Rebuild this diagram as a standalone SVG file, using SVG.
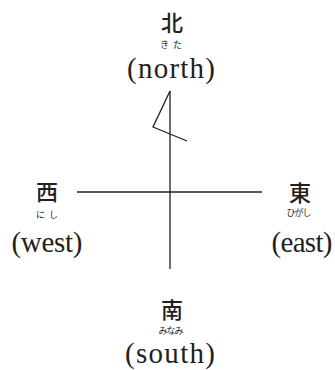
<svg xmlns="http://www.w3.org/2000/svg" width="335" height="370" viewBox="0 0 335 370">
<style>
.k{font-family:"Noto Sans CJK JP",sans-serif;font-size:22px;font-weight:500;fill:#231f20;text-anchor:middle}
.r{font-family:"Noto Sans CJK JP",sans-serif;font-size:9px;fill:#231f20;text-anchor:middle}
.e{font-family:"Liberation Serif",serif;font-size:29px;fill:#231f20;text-anchor:middle}
.ln{stroke:#231f20;stroke-width:1.3;fill:none}
</style>
<rect width="335" height="370" fill="#ffffff"/>
<g id="connectors">
<line class="ln" x1="170" y1="91" x2="170" y2="269"/>
<line class="ln" x1="77" y1="192" x2="262" y2="192"/>
<polyline class="ln" points="170,91 153,127 187,141"/>
</g>
<g id="north">
<text class="k" x="172" y="31">北</text>
<text class="r" x="171" y="48" textLength="22">きた</text>
<text class="e" x="171" y="78" textLength="88">(north)</text>
</g>
<g id="west">
<text class="k" x="47" y="200">西</text>
<text class="r" x="47" y="218" textLength="22">にし</text>
<text class="e" x="47" y="252" textLength="71">(west)</text>
</g>
<g id="east">
<text class="k" x="300" y="201">東</text>
<text class="r" x="299" y="216" textLength="25">ひがし</text>
<text class="e" x="302" y="252" textLength="61">(east)</text>
</g>
<g id="south">
<text class="k" x="172" y="318">南</text>
<text class="r" x="171" y="334" textLength="25">みなみ</text>
<text class="e" x="170" y="363" textLength="90">(south)</text>
</g>
</svg>
